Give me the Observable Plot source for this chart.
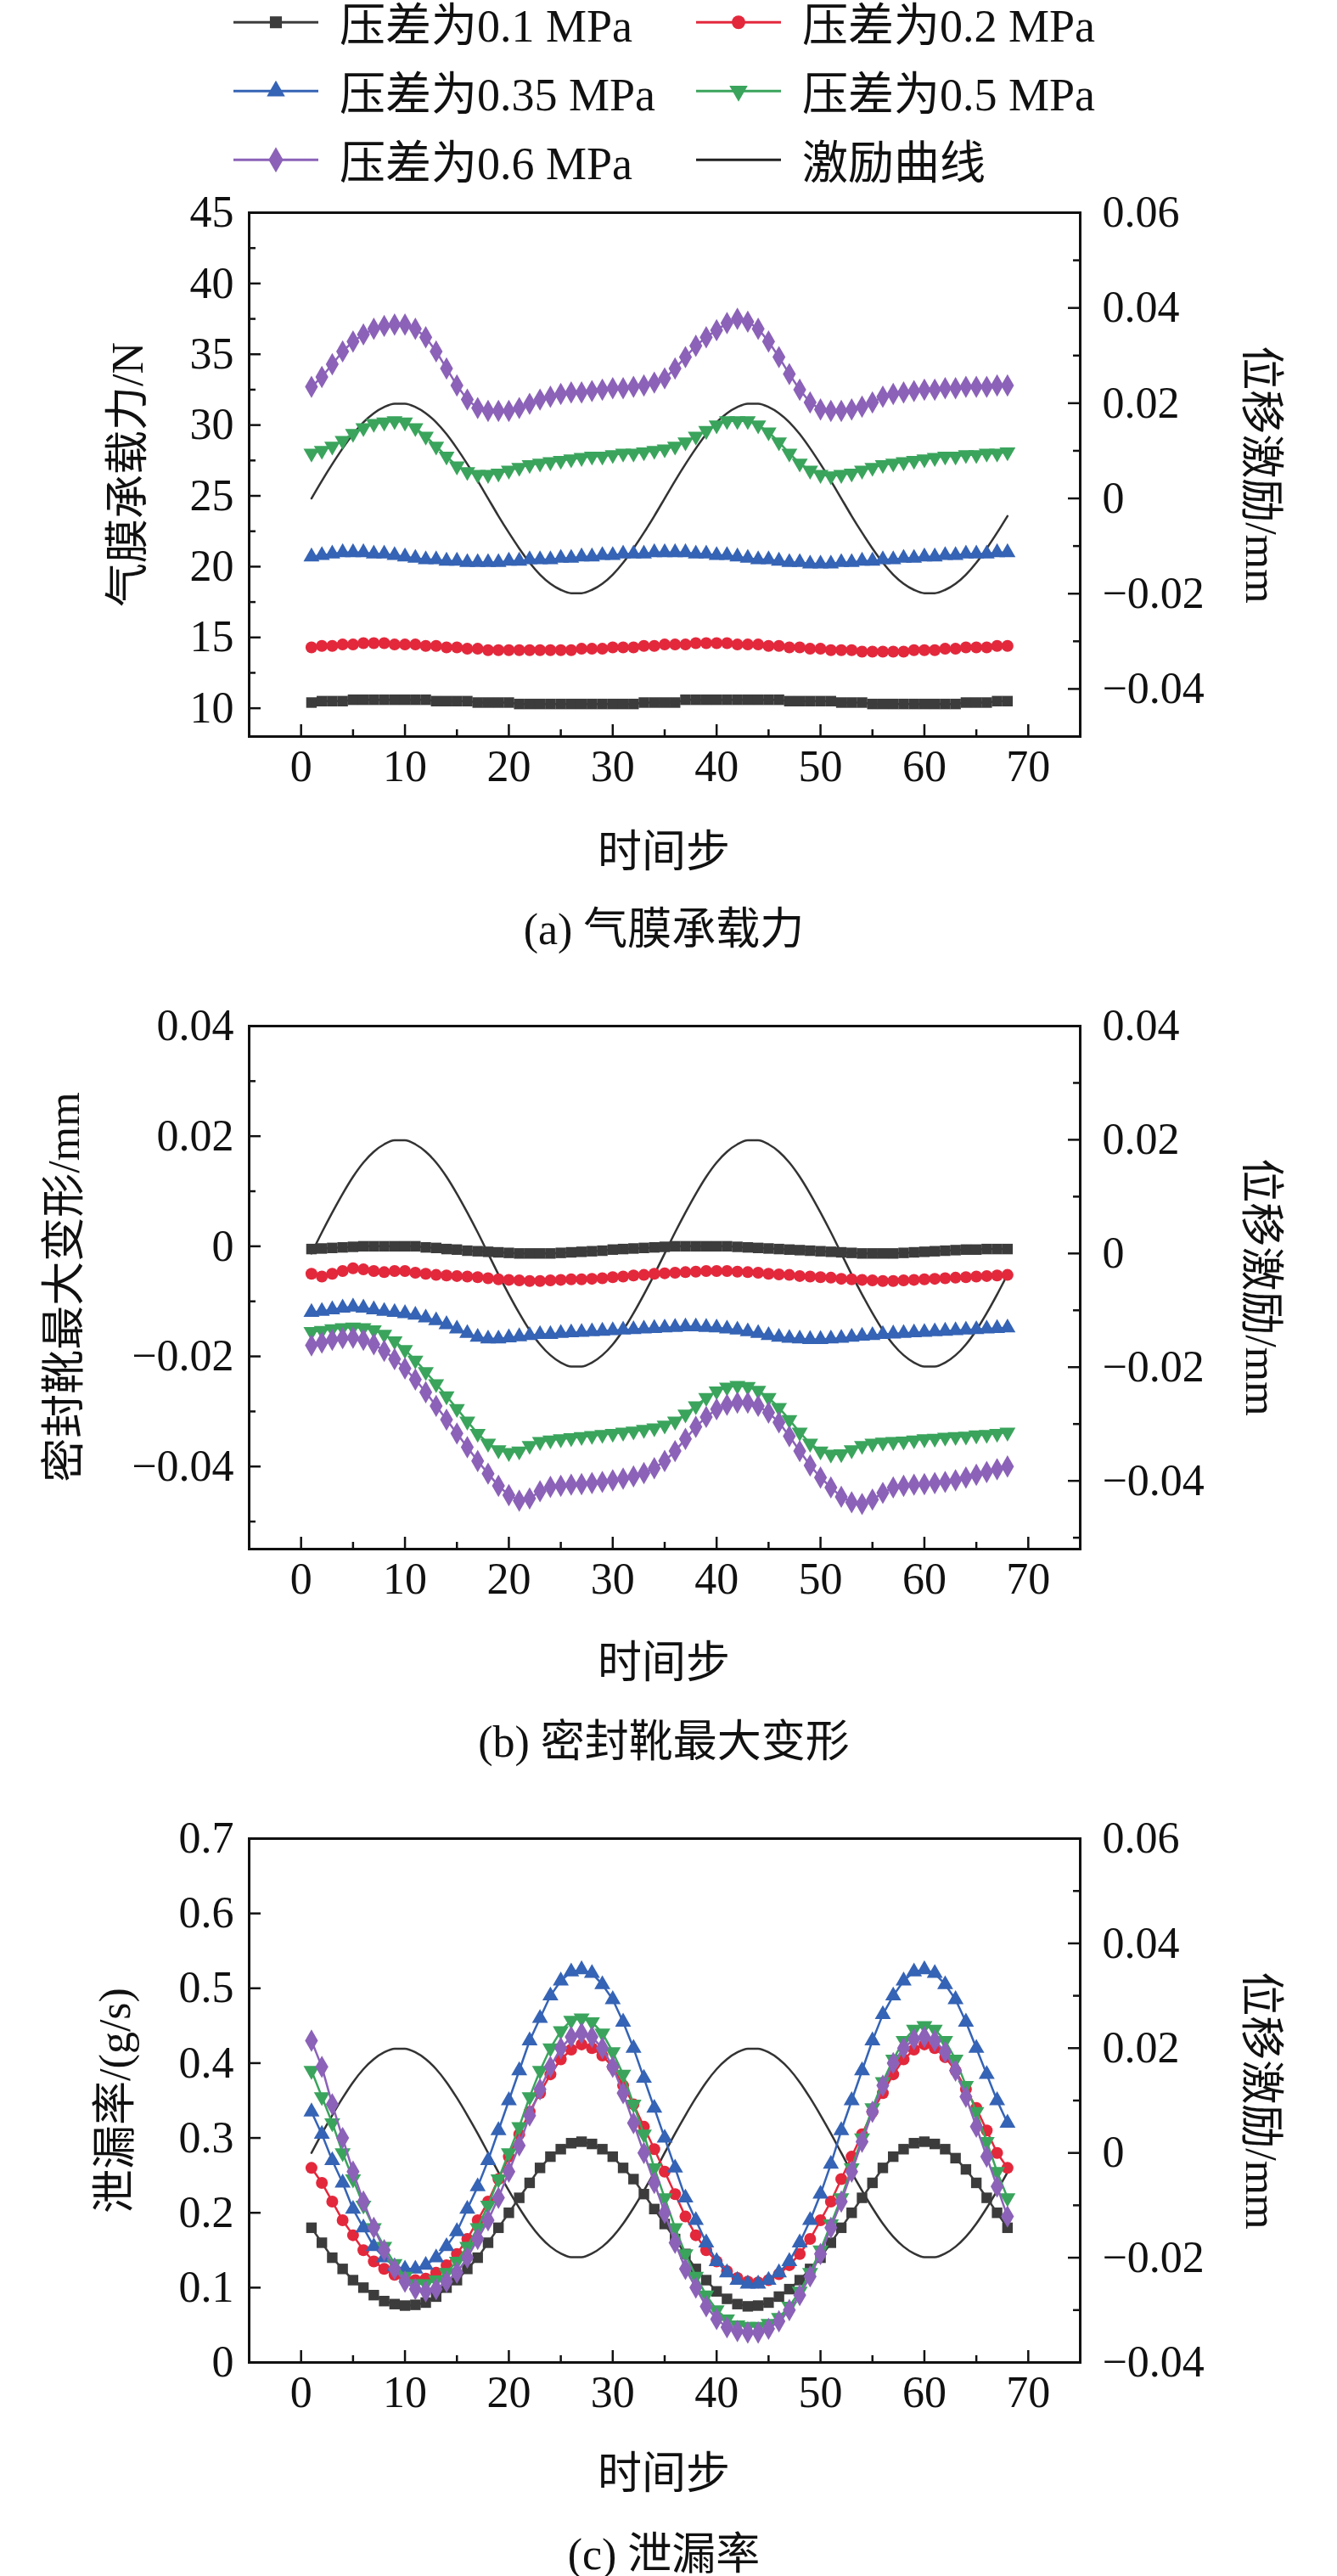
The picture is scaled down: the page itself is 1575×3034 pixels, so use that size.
<!DOCTYPE html>
<html><head><meta charset="utf-8">
<script src="https://cdn.jsdelivr.net/npm/d3@7"></script>
<script src="https://cdn.jsdelivr.net/npm/@observablehq/plot@0.6"></script>
<style>
body{margin:0;background:#fff;}
#root{position:relative;width:1575px;height:3034px;font-family:"Liberation Serif","Noto Sans CJK SC",serif;color:#111;}
.abs{position:absolute;white-space:nowrap;}
.lab{font-size:52px;transform:translate(-50%,-50%);}
.rotL{font-size:52px;transform:translate(-50%,-50%) rotate(-90deg);}
.rotR{font-size:52px;transform:translate(-50%,-50%) rotate(90deg);}
.leg{font-size:54px;display:flex;align-items:center;}
</style></head><body><div id="root"></div>
<script>
const seriesNames = ["压差为0.1 MPa","压差为0.2 MPa","压差为0.35 MPa","压差为0.5 MPa","压差为0.6 MPa"];
const excName = "激励曲线";
const colors = ["#3c3c3c","#e3283c","#3563b5","#3aa45c","#8b62b8"];
const steps = d3.range(1, 69);
const excitation = [0,0.0037,0.0072,0.0105,0.0135,0.016,0.0179,0.0192,0.0199,0.0199,0.0192,0.0179,0.016,0.0135,0.0105,0.0072,0.0037,0,
 -0.0037,-0.0072,-0.0105,-0.0135,-0.016,-0.0179,-0.0192,-0.0199,-0.0199,-0.0192,-0.0179,-0.016,-0.0135,-0.0105,-0.0072,-0.0037,
 0,0.0037,0.0072,0.0105,0.0135,0.016,0.0179,0.0192,0.0199,0.0199,0.0192,0.0179,0.016,0.0135,0.0105,0.0072,0.0037,0,
 -0.0037,-0.0072,-0.0105,-0.0135,-0.016,-0.0179,-0.0192,-0.0199,-0.0199,-0.0192,-0.0179,-0.016,-0.0135,-0.0105,-0.0072,-0.0037];

// (a) 气膜承载力 /N
const forceP01 = [10.4,10.5,10.5,10.5,10.6,10.6,10.6,10.6,10.6,10.6, 10.6,10.6,10.5,10.5,10.5,10.5,10.4,10.4,10.4,10.4,
 10.3,10.3,10.3,10.3,10.3,10.3,10.3,10.3,10.3,10.3, 10.3,10.3,10.4,10.4,10.4,10.4,10.6,10.6,10.6,10.6,
 10.6,10.6,10.6,10.6,10.6,10.6,10.5,10.5,10.5,10.5, 10.5,10.4,10.4,10.4,10.3,10.3,10.3,10.3,10.3,10.3,
 10.3,10.3,10.3,10.4,10.4,10.4,10.5,10.5];
const forceP02 = [14.3,14.4,14.4,14.5,14.5,14.6,14.6,14.6,14.5,14.5, 14.5,14.4,14.4,14.3,14.3,14.2,14.2,14.1,14.1,14.1,
 14.1,14.1,14.1,14.1,14.1,14.1,14.2,14.2,14.2,14.3, 14.3,14.3,14.4,14.4,14.5,14.5,14.5,14.6,14.6,14.6,
 14.6,14.5,14.5,14.5,14.4,14.4,14.3,14.3,14.2,14.2, 14.1,14.1,14.1,14.0,14.0,14.0,14.0,14.0,14.1,14.1,
 14.1,14.2,14.2,14.3,14.3,14.3,14.4,14.4];
const forceP035 = [20.7,20.8,20.9,21.0,21.0,21.0,20.9,20.9,20.8,20.7, 20.6,20.5,20.5,20.4,20.4,20.3,20.3,20.3,20.3,20.4,
 20.4,20.5,20.5,20.5,20.6,20.6,20.7,20.7,20.8,20.8, 20.9,20.9,20.9,21.0,21.0,21.0,21.0,20.9,20.9,20.8,
 20.8,20.7,20.6,20.5,20.5,20.4,20.3,20.3,20.2,20.2, 20.2,20.3,20.3,20.4,20.4,20.5,20.5,20.6,20.6,20.7,
 20.7,20.8,20.8,20.9,20.9,20.9,21.0,21.0];
const forceP05 = [28.0,28.2,28.5,28.9,29.4,29.8,30.1,30.2,30.3,30.2, 29.8,29.2,28.5,27.8,27.1,26.7,26.5,26.5,26.6,26.8,
 27.0,27.2,27.3,27.4,27.5,27.6,27.7,27.8,27.8,27.9, 28.0,28.0,28.1,28.2,28.3,28.5,28.8,29.2,29.6,30.0,
 30.3,30.3,30.3,30.0,29.5,28.8,28.0,27.3,26.8,26.5, 26.4,26.5,26.6,26.8,27.0,27.2,27.3,27.4,27.5,27.6,
 27.7,27.8,27.8,27.9,27.9,28.0,28.0,28.1];
const forceP06 = [32.7,33.4,34.3,35.2,35.9,36.4,36.8,37.0,37.1,37.1, 36.8,36.2,35.2,34.0,32.8,31.8,31.2,31.0,31.0,31.0,
 31.2,31.5,31.8,32.0,32.2,32.3,32.3,32.4,32.5,32.6, 32.6,32.7,32.8,33.0,33.3,34.0,34.8,35.6,36.2,36.7,
 37.2,37.5,37.3,36.8,35.9,34.8,33.6,32.5,31.6,31.1, 31.0,31.0,31.1,31.3,31.6,32.0,32.2,32.3,32.4,32.5,
 32.5,32.6,32.6,32.7,32.7,32.7,32.8,32.8];

// (b) 密封靴最大变形 /mm
const deformP01 = [-0.0005,-0.0004,-0.0003,-0.0002,-0.0001,0,0,0,0,0, 0,-0.0002,-0.0003,-0.0005,-0.0006,-0.0008,-0.0009,-0.001,-0.0011,-0.0012,
 -0.0013,-0.0013,-0.0013,-0.0013,-0.0012,-0.0011,-0.001,-0.0009,-0.0008,-0.0006, -0.0005,-0.0004,-0.0003,-0.0002,-0.0001,0,0,0,0,0,
 0,-0.0001,-0.0002,-0.0003,-0.0004,-0.0005,-0.0006,-0.0007,-0.0008,-0.0009, -0.001,-0.0011,-0.0012,-0.0013,-0.0013,-0.0013,-0.0013,-0.0012,-0.0011,-0.001,
 -0.0009,-0.0008,-0.0007,-0.0006,-0.0006,-0.0005,-0.0005,-0.0005];
const deformP02 = [-0.005,-0.0055,-0.005,-0.0045,-0.004,-0.0042,-0.0045,-0.0047,-0.0045,-0.0045, -0.0048,-0.005,-0.0052,-0.0053,-0.0054,-0.0055,-0.0056,-0.0058,-0.006,-0.0061,
 -0.0062,-0.0063,-0.0063,-0.0062,-0.0061,-0.006,-0.006,-0.0059,-0.0058,-0.0056, -0.0055,-0.0053,-0.0052,-0.005,-0.0049,-0.0048,-0.0047,-0.0046,-0.0045,-0.0045,
 -0.0045,-0.0046,-0.0047,-0.0048,-0.005,-0.0051,-0.0052,-0.0054,-0.0055,-0.0056, -0.0057,-0.0059,-0.006,-0.0061,-0.0062,-0.0063,-0.0063,-0.0062,-0.0061,-0.006,
 -0.0059,-0.0058,-0.0057,-0.0056,-0.0055,-0.0054,-0.0053,-0.0052];
const deformP035 = [-0.012,-0.0118,-0.0115,-0.0112,-0.011,-0.0112,-0.0115,-0.0118,-0.012,-0.0122, -0.0125,-0.013,-0.0135,-0.0142,-0.015,-0.0158,-0.0165,-0.0168,-0.0168,-0.0166,
 -0.0164,-0.0162,-0.016,-0.016,-0.0158,-0.0157,-0.0156,-0.0155,-0.0154,-0.0153, -0.0152,-0.0151,-0.015,-0.0149,-0.0148,-0.0147,-0.0146,-0.0146,-0.0147,-0.0148,
 -0.015,-0.0152,-0.0155,-0.0158,-0.0162,-0.0165,-0.0167,-0.0168,-0.0169,-0.0169, -0.0168,-0.0167,-0.0165,-0.0163,-0.0162,-0.016,-0.0159,-0.0158,-0.0157,-0.0156,
 -0.0155,-0.0154,-0.0153,-0.0152,-0.0151,-0.015,-0.0149,-0.0148];
const deformP05 = [-0.0155,-0.0153,-0.015,-0.0148,-0.0147,-0.0148,-0.0152,-0.016,-0.0172,-0.0188, -0.0207,-0.0228,-0.025,-0.0272,-0.0295,-0.0318,-0.034,-0.0358,-0.037,-0.0375,
 -0.0372,-0.0362,-0.0355,-0.0352,-0.035,-0.0348,-0.0346,-0.0344,-0.0342,-0.034, -0.0338,-0.0336,-0.0333,-0.033,-0.0325,-0.0318,-0.0305,-0.029,-0.0275,-0.0263,
 -0.0256,-0.0253,-0.0255,-0.0262,-0.0275,-0.0293,-0.0315,-0.0338,-0.0358,-0.0372, -0.0378,-0.0377,-0.037,-0.0362,-0.0358,-0.0356,-0.0355,-0.0354,-0.0352,-0.035,
 -0.0349,-0.0347,-0.0346,-0.0345,-0.0343,-0.0342,-0.034,-0.0338];
const deformP06 = [-0.018,-0.0175,-0.017,-0.0167,-0.0166,-0.017,-0.0178,-0.019,-0.0205,-0.0222, -0.0242,-0.0265,-0.029,-0.0315,-0.034,-0.0365,-0.039,-0.0413,-0.0435,-0.0452,
 -0.0462,-0.0458,-0.0445,-0.0437,-0.0435,-0.0433,-0.0432,-0.043,-0.0428,-0.0425, -0.0422,-0.0418,-0.0412,-0.0403,-0.039,-0.0372,-0.035,-0.0328,-0.031,-0.0296,
 -0.0288,-0.0284,-0.0284,-0.029,-0.0302,-0.032,-0.0345,-0.0372,-0.0398,-0.042, -0.0438,-0.0455,-0.0465,-0.0468,-0.046,-0.0448,-0.0438,-0.0435,-0.0433,-0.0432,
 -0.043,-0.0428,-0.0425,-0.042,-0.0415,-0.041,-0.0405,-0.04];

// (c) 泄漏率 /(g/s)
const leakP01 = [0.18,0.16,0.14,0.125,0.11,0.10,0.09,0.082,0.078,0.076, 0.077,0.08,0.088,0.10,0.11,0.125,0.14,0.16,0.18,0.20,
 0.22,0.24,0.26,0.275,0.285,0.293,0.295,0.292,0.285,0.275, 0.26,0.245,0.225,0.205,0.185,0.165,0.145,0.125,0.11,0.095,
 0.085,0.078,0.075,0.076,0.08,0.088,0.098,0.11,0.125,0.14, 0.16,0.18,0.20,0.22,0.24,0.26,0.275,0.285,0.293,0.295,
 0.292,0.285,0.273,0.258,0.24,0.22,0.20,0.18];
const leakP02 = [0.26,0.24,0.215,0.19,0.17,0.15,0.135,0.125,0.117,0.112, 0.11,0.112,0.12,0.13,0.145,0.165,0.19,0.215,0.245,0.275,
 0.305,0.335,0.36,0.385,0.405,0.418,0.425,0.42,0.41,0.395, 0.37,0.345,0.315,0.285,0.255,0.225,0.195,0.17,0.15,0.135,
 0.122,0.113,0.108,0.107,0.11,0.118,0.13,0.145,0.165,0.19, 0.215,0.245,0.275,0.305,0.335,0.36,0.385,0.405,0.418,0.425,
 0.42,0.408,0.39,0.365,0.34,0.31,0.28,0.26];
const leakP035 = [0.335,0.305,0.27,0.24,0.205,0.18,0.155,0.14,0.128,0.125, 0.125,0.13,0.14,0.155,0.175,0.205,0.235,0.27,0.31,0.35,
 0.39,0.43,0.46,0.49,0.51,0.522,0.525,0.52,0.505,0.485, 0.455,0.42,0.38,0.34,0.30,0.26,0.22,0.19,0.16,0.135,
 0.12,0.11,0.105,0.105,0.11,0.12,0.135,0.16,0.19,0.225, 0.265,0.31,0.35,0.39,0.43,0.465,0.49,0.51,0.522,0.525,
 0.52,0.505,0.485,0.455,0.42,0.385,0.35,0.32];
const leakP05 = [0.39,0.355,0.32,0.28,0.245,0.21,0.18,0.155,0.132,0.115, 0.105,0.105,0.11,0.12,0.135,0.155,0.18,0.21,0.245,0.28,
 0.315,0.355,0.39,0.42,0.443,0.457,0.46,0.455,0.44,0.415, 0.385,0.345,0.305,0.26,0.22,0.18,0.145,0.115,0.09,0.07,
 0.058,0.05,0.048,0.048,0.052,0.06,0.075,0.095,0.12,0.15, 0.185,0.22,0.26,0.30,0.34,0.375,0.405,0.43,0.445,0.45,
 0.445,0.43,0.405,0.37,0.335,0.295,0.255,0.22];
const leakP06 = [0.43,0.395,0.345,0.30,0.255,0.215,0.18,0.15,0.125,0.108, 0.098,0.095,0.098,0.108,0.12,0.14,0.165,0.19,0.22,0.255,
 0.29,0.33,0.365,0.395,0.42,0.435,0.44,0.435,0.42,0.395, 0.36,0.32,0.28,0.24,0.20,0.16,0.125,0.10,0.075,0.058,
 0.047,0.042,0.04,0.04,0.045,0.055,0.07,0.09,0.115,0.145, 0.18,0.215,0.255,0.295,0.335,0.37,0.40,0.42,0.432,0.435,
 0.43,0.415,0.39,0.355,0.315,0.275,0.235,0.195];

const xTicks = [0,10,20,30,40,50,60,70];
const xMinor = [5,15,25,35,45,55,65];
const aLeftTicks = [10,15,20,25,30,35,40,45];
const aLeftLabels = ["10","15","20","25","30","35","40","45"];
const aLeftMinor = [12.5,17.5,22.5,27.5,32.5,37.5,42.5];
const aRightTicks = [-0.04,-0.02,0,0.02,0.04,0.06];
const aRightLabels = ["−0.04","−0.02","0","0.02","0.04","0.06"];
const aRightMinor = [-0.03,-0.01,0.01,0.03,0.05];
const bLeftTicks = [-0.04,-0.02,0,0.02,0.04];
const bLeftLabels = ["−0.04","−0.02","0","0.02","0.04"];
const bLeftMinor = [-0.05,-0.03,-0.01,0.01,0.03];
const bRightTicks = [-0.04,-0.02,0,0.02,0.04];
const bRightLabels = ["−0.04","−0.02","0","0.02","0.04"];
const bRightMinor = [-0.05,-0.03,-0.01,0.01,0.03];
const cLeftTicks = [0,0.1,0.2,0.3,0.4,0.5,0.6,0.7];
const cLeftLabels = ["0","0.1","0.2","0.3","0.4","0.5","0.6","0.7"];
const cRightTicks = [-0.04,-0.02,0,0.02,0.04,0.06];
const cRightLabels = ["−0.04","−0.02","0","0.02","0.04","0.06"];
const cRightMinor = [-0.03,-0.01,0.01,0.03,0.05];

const triDown = {draw(ctx, size){const y=-Math.sqrt(size/(Math.sqrt(3)*3));ctx.moveTo(0,-2*y);ctx.lineTo(-Math.sqrt(3)*y,y);ctx.lineTo(Math.sqrt(3)*y,y);ctx.closePath();}};
const symbols = [d3.symbolSquare, d3.symbolCircle, d3.symbolTriangle, triDown, d3.symbolDiamond];
const symbolNames = ["square","circle","triangle",triDown,"diamond"];

const root = document.getElementById("root");
function addDiv(cls, html, x, y){const d=document.createElement("div");d.className="abs "+cls;d.innerHTML=html;d.style.left=x+"px";d.style.top=y+"px";root.appendChild(d);return d;}

// legend
const legPos = [[275,28],[820,28],[275,109],[820,109],[275,190],[820,190]];
const legNames = [...seriesNames, excName];
legNames.forEach((n,i)=>{
  const [x,y]=legPos[i];
  const col = i<5?colors[i]:"#222";
  let sym = "";
  if(i<5){const p=d3.symbol(symbols[i], i==4?260:200)(); sym=`<path d="${p}" transform="translate(50,20)" fill="${col}"/>`;}
  const d=addDiv("leg",`<svg width="100" height="40" style="margin-right:25px"><line x1="0" x2="100" y1="20" y2="20" stroke="${col}" stroke-width="3"/>${sym}</svg><span>${n}</span>`,x,y-22);
  d.style.transform="translateY(-25%)";
});

const ML=293, MR=303, XD=[-5,75];
function panel(o){
  const mt=40, mb=110;
  const H=o.bottom-o.top, W=1575-ML-MR;
  const [y0,y1]=o.yDomain, [r0,r1]=o.rDomain;
  const toL = v => y0 + (v-r0)*(y1-y0)/(r1-r0);
  const kx=(XD[1]-XD[0])/W, ky=(y1-y0)/H;
  const rightMap = new Map(o.rTicks.map((v,i)=>[toL(v),o.rLabels[i]]));
  const leftMap = new Map(o.yTicks.map((v,i)=>[v,o.yLabels[i]]));
  const data=[];
  o.series.forEach((arr,si)=>arr.forEach((v,i)=>data.push({s:si,x:steps[i],y:v})));
  const exc = excitation.map((v,i)=>({x:steps[i],y:toL(v)}));
  const marks=[
    Plot.line(exc,{x:"x",y:"y",stroke:"#333",strokeWidth:2.5,curve:"monotone-x"}),
  ];
  o.series.forEach((arr,si)=>{
    const d=data.filter(p=>p.s===si);
    marks.push(Plot.line(d,{x:"x",y:"y",stroke:colors[si],strokeWidth:2.5}));
    marks.push(Plot.dot(d,{x:"x",y:"y",fill:colors[si],stroke:"none",symbol:symbolNames[si],r:si==4?8:7}));
  });
  const lw=2.5;
  marks.push(
    Plot.ruleY(o.yTicks,{x1:XD[0],x2:XD[0]+14*kx,stroke:"#111",strokeWidth:lw}),
    Plot.ruleY(o.yMinor||[],{x1:XD[0],x2:XD[0]+8*kx,stroke:"#111",strokeWidth:lw}),
    Plot.ruleY(o.rTicks.map(toL),{x1:XD[1]-14*kx,x2:XD[1],stroke:"#111",strokeWidth:lw}),
    Plot.ruleY((o.rMinor||[]).map(toL),{x1:XD[1]-8*kx,x2:XD[1],stroke:"#111",strokeWidth:lw}),
    Plot.ruleX(xTicks,{y1:y0,y2:y0+14*ky,stroke:"#111",strokeWidth:lw}),
    Plot.ruleX(xMinor,{y1:y0,y2:y0+8*ky,stroke:"#111",strokeWidth:lw}),
    Plot.frame({stroke:"#111",strokeWidth:3}),
    Plot.axisX(xTicks,{tickSize:0,tickPadding:16,label:null}),
    Plot.axisY(o.yTicks,{anchor:"left",tickSize:0,tickPadding:18,label:null,tickFormat:d=>leftMap.get(d)}),
    Plot.axisY(o.rTicks.map(toL),{anchor:"right",tickSize:0,tickPadding:26,label:null,tickFormat:d=>rightMap.get(d)})
  );
  const svg=Plot.plot({width:1575,height:mt+H+mb,marginTop:mt,marginBottom:mb,marginLeft:ML,marginRight:MR,
    x:{domain:XD},y:{domain:o.yDomain},marks,
    style:{fontFamily:'"Liberation Serif",serif',fontSize:"52px",color:"#111",background:"transparent",overflow:"visible"}});
  svg.style.position="absolute";svg.style.left="0px";svg.style.top=(o.top-mt)+"px";
  root.appendChild(svg);
  const cy=(o.top+o.bottom)/2;
  addDiv("rotL",o.leftTitle,o.leftX,cy);
  addDiv("rotR","位移激励/mm",1490,cy);
  addDiv("lab","时间步",782,o.xlabY);
  addDiv("lab",o.caption,782,o.capY);
}

panel({top:250,bottom:867,yDomain:[8,45],rDomain:[-0.05,0.06],
  yTicks:aLeftTicks,yLabels:aLeftLabels,yMinor:aLeftMinor,rTicks:aRightTicks,rLabels:aRightLabels,rMinor:aRightMinor,
  series:[forceP01,forceP02,forceP035,forceP05,forceP06],leftTitle:"气膜承载力/N",leftX:145,xlabY:998,caption:"(a) 气膜承载力",capY:1089});
panel({top:1208,bottom:1824,yDomain:[-0.055,0.04],rDomain:[-0.052,0.04],
  yTicks:bLeftTicks,yLabels:bLeftLabels,yMinor:bLeftMinor,rTicks:bRightTicks,rLabels:bRightLabels,rMinor:bRightMinor,
  series:[deformP01,deformP02,deformP035,deformP05,deformP06],leftTitle:"密封靴最大变形/mm",leftX:70,xlabY:1953,caption:"(b) 密封靴最大变形",capY:2046});
panel({top:2165,bottom:2782,yDomain:[0,0.7],rDomain:[-0.04,0.06],
  yTicks:cLeftTicks,yLabels:cLeftLabels,yMinor:[],rTicks:cRightTicks,rLabels:cRightLabels,rMinor:cRightMinor,
  series:[leakP01,leakP02,leakP035,leakP05,leakP06],leftTitle:"泄漏率/(g/s)",leftX:130,xlabY:2908,caption:"(c) 泄漏率",capY:3003});
</script></body></html>
